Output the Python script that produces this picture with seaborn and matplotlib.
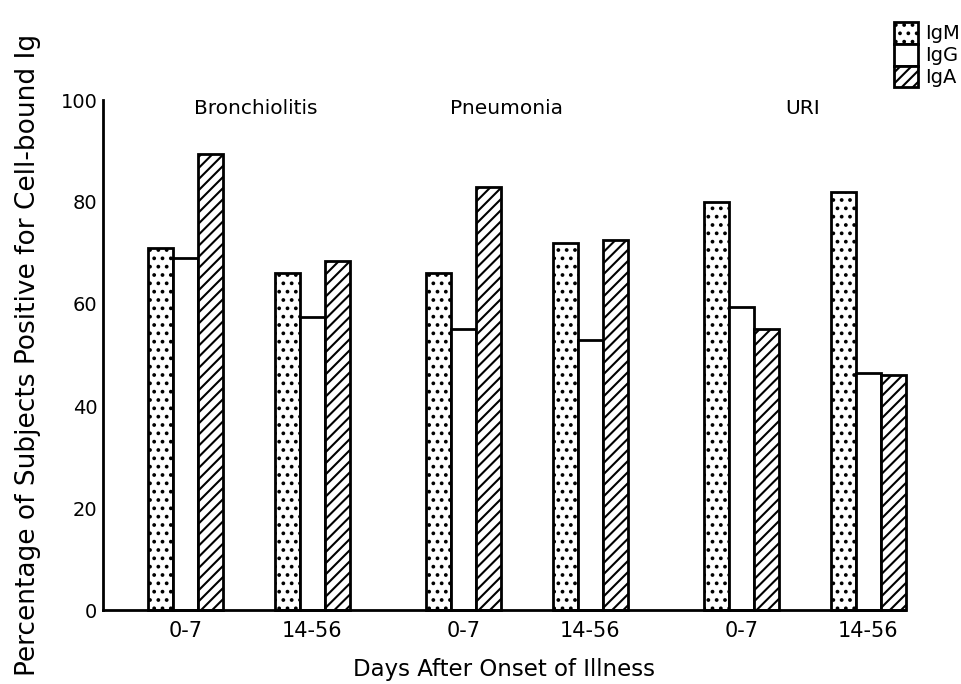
import numpy as np
import pandas as pd
import matplotlib
matplotlib.use("Agg")
import matplotlib.pyplot as plt
import seaborn as sns
from matplotlib.patches import Patch

# ---- data ----
diseases = ["Bronchiolitis", "Pneumonia", "URI"]
periods = ["0-7", "14-56"]
ig_types = ["IgM", "IgG", "IgA"]
igm = [71, 66, 66, 72, 80, 82]
igg = [69, 57.5, 55, 53, 59.5, 46.5]
iga = [89.5, 68.5, 83, 72.5, 55, 46]

# ---- layout (group positions on a native numeric axis) ----
first_pos = 82.5
period_step = 127
disease_step = 278
group_span = 75
label_offsets = [7, -20, -2]

sns.set_theme(style="white")
plt.rcParams["font.family"] = ["DejaVu Sans"]
plt.rcParams["hatch.linewidth"] = 1.5
plt.rcParams["hatch.color"] = "black"
for key in ["text.color", "axes.labelcolor", "xtick.color", "ytick.color", "axes.edgecolor"]:
    plt.rcParams[key] = "black"

rows = []
positions = []
tick_labels = []
for di, d in enumerate(diseases):
    for pi, p in enumerate(periods):
        k = di * len(periods) + pi
        pos = first_pos + di * disease_step + pi * period_step
        positions.append(pos)
        tick_labels.append(p)
        for ig, vals in zip(ig_types, [igm, igg, iga]):
            rows.append({"pos": pos, "disease": d, "period": p, "Ig": ig, "value": vals[k]})
df = pd.DataFrame(rows)

fig = plt.figure(figsize=(9.62, 6.84), dpi=100)
ax = fig.add_axes([103 / 962, 74 / 684, 802 / 962, 510 / 684])

sns.barplot(data=df, x="pos", y="value", hue="Ig", hue_order=ig_types,
            native_scale=True, width=group_span / period_step,
            palette={k: "white" for k in ig_types}, saturation=1,
            edgecolor="black", linewidth=2.0, errorbar=None,
            legend=False, ax=ax)

hatches = {"IgM": "..", "IgG": "", "IgA": "///"}
for cont, ig in zip(ax.containers, ig_types):
    for bar in cont:
        bar.set_hatch(hatches[ig])
        bar.set_clip_on(False)

ax.set_xlim(0, 802)
ax.set_ylim(0, 100)
ax.set_xticks(positions)
ax.set_xticklabels(tick_labels, fontsize=15)
ax.set_yticks([0, 20, 40, 60, 80, 100])
ax.set_yticklabels(["0", "20", "40", "60", "80", "100"], fontsize=14)
ax.tick_params(axis="x", length=0, pad=8)
ax.tick_params(axis="y", direction="in", length=8, width=1.8, pad=4, colors="black")
ax.set_xlabel("Days After Onset of Illness", fontsize=16.5, labelpad=12)
ax.set_ylabel("Percentage of Subjects Positive for Cell-bound Ig", fontsize=19, labelpad=14)
sns.despine(ax=ax)
for s in ["left", "bottom"]:
    ax.spines[s].set_linewidth(2)
    ax.spines[s].set_color("black")

for di, d in enumerate(diseases):
    mid = np.mean(positions[di * 2: di * 2 + 2]) + label_offsets[di]
    ax.text(mid, 98.4, d, ha="center", va="center", fontsize=14.5, color="black")

handles = [Patch(facecolor="white", edgecolor="black", linewidth=2, hatch=hatches[ig]) for ig in ig_types]
leg = fig.legend(handles, ig_types, loc="upper right", bbox_to_anchor=(960 / 962, 1 - 22 / 684),
                 frameon=False, fontsize=14, handlelength=1.25, handleheight=1.35,
                 labelspacing=0.0, handletextpad=0.35, borderpad=0, borderaxespad=0)
for t in leg.get_texts():
    t.set_color("black")

fig.savefig("out.png", dpi=100, facecolor="white")
